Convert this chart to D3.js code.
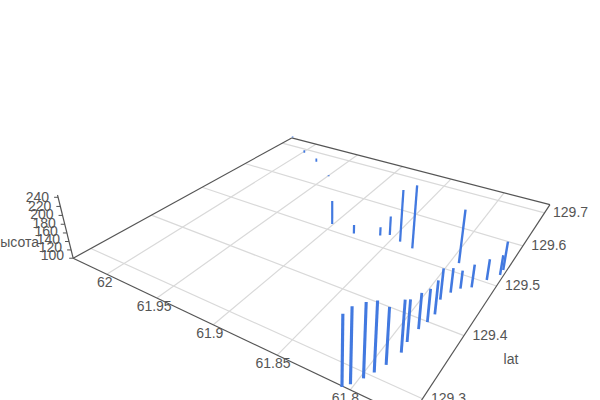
<!DOCTYPE html>
<html><head><meta charset="utf-8">
<style>html,body{margin:0;padding:0;background:#fff;overflow:hidden}svg{display:block}text{font-family:"Liberation Sans",Arial,sans-serif;font-size:14px;fill:#555}</style>
<script src="https://cdnjs.cloudflare.com/ajax/libs/d3/7.8.5/d3.min.js"></script>
</head><body><svg id="c" width="600" height="400"></svg>
<script>
const lng = [61.805,61.802,61.798,61.795,61.792,61.789,61.790,61.789,61.787,61.786,61.789,61.786,61.782,61.776,61.770,61.764,61.764,61.794,61.831,61.843,61.854,61.860,61.879,61.901,61.949,61.976,61.998,62.031];
const lat = [129.273,129.280,129.293,129.305,129.320,129.343,129.360,129.384,129.399,129.415,129.442,129.460,129.473,129.482,129.505,129.523,129.535,129.520,129.519,129.525,129.532,129.524,129.510,129.515,129.634,129.668,129.687,129.731];
const height = [241,250,248,241,216,208,189,177,172,174,169,155,141,152,148,146,166,223,247,223,146,121,121,158,103,110,108,103];
const lngTicks = [62,61.95,61.9,61.85,61.8];
const latTicks = [129.3,129.4,129.5,129.6,129.7];
const zTicks = [100,120,140,160,180,200,220,240];
const floorLat = [129.274,129.728];
const floorLngNear = [62.037,61.764];
const floorLngFar = [62.031,61.760];
const zExtent = [100,245];

const A = d3.scaleLinear().domain([62,61.8]).range([0,1]);
const B = d3.scaleLinear().domain([129.3,129.7]).range([0,1]);
const Z = d3.scaleLinear().domain([100,240]).range([0,0.056]);
const VP = [331,1300];
function project(u,v,z){
  const a=A(u), b=B(v), s=Z(z===undefined?100:z);
  const W=1-0.2168*a+0.4086*b;
  const X=161.1*a+308.4*b+124, Y=28.1*a-52.6*b+263.5;
  return [(X-s*VP[0])/(W-s),(Y-s*VP[1])/(W-s),W];
}
const latT=d3.scaleLinear().domain(floorLat).range([0,1]);
const leftU=v=>d3.interpolateNumber(floorLngNear[0],floorLngFar[0])(latT(v));
const rightU=v=>d3.interpolateNumber(floorLngNear[1],floorLngFar[1])(latT(v));
const svg=d3.select("#c");
function seg(g,p,q,col,w){
  g.append("line").attr("x1",p[0]).attr("y1",p[1]).attr("x2",q[0]).attr("y2",q[1])
   .attr("stroke",col).attr("stroke-width",w);
}
const grid=svg.append("g"), edges=svg.append("g"), bars=svg.append("g"), labels=svg.append("g");
const [v0,v1]=floorLat;
lngTicks.forEach(u=>seg(grid,project(u,v0),project(u,v1),"#d9d9d9",1.2));
latTicks.forEach(v=>seg(grid,project(leftU(v),v),project(rightU(v),v),"#d9d9d9",1.2));
const corner=project(leftU(v0),v0);
seg(edges,corner,project(rightU(v0),v0),"#555",1.2);
seg(edges,project(rightU(v0),v0),project(rightU(v1),v1),"#555",1.2);
seg(edges,project(rightU(v1),v1),project(leftU(v1),v1),"#555",1.2);
seg(edges,project(leftU(v1),v1),corner,"#555",1.2);
seg(edges,project(leftU(v0),v0,zExtent[0]),project(leftU(v0),v0,zExtent[1]),"#555",1.2);
zTicks.forEach(z=>{
  const p=project(leftU(v0),v0,z);
  seg(edges,p,[p[0]-4,p[1]],"#555",1);
  labels.append("text").attr("x",p[0]-9).attr("y",p[1]-2+3*(z-100)/140).attr("text-anchor","end").attr("dominant-baseline","middle").text(z);
});
labels.append("text").attr("x",39).attr("y",243).attr("text-anchor","end").attr("dominant-baseline","middle").text("высота");
lngTicks.forEach(u=>{
  const p=project(u,v0);
  labels.append("text").attr("x",p[0]-2-3*A(u)).attr("y",p[1]+9).attr("text-anchor","middle").attr("dominant-baseline","middle").text(u);
});
latTicks.forEach(v=>{
  const p=project(rightU(v),v);
  labels.append("text").attr("x",p[0]+8.5).attr("y",p[1]+0.5).attr("dominant-baseline","middle").text(v);
});
labels.append("text").attr("x",511).attr("y",360).attr("text-anchor","middle").attr("dominant-baseline","middle").text("lat");
const order=d3.range(lng.length).sort((i,j)=>project(lng[j],lat[j])[2]-project(lng[i],lat[i])[2]);
order.forEach(i=>{
  const p=project(lng[i],lat[i]), q=project(lng[i],lat[i],height[i]);
  seg(bars,p,q,"#4279e0",2.4/p[2]);
});
</script></body></html>
